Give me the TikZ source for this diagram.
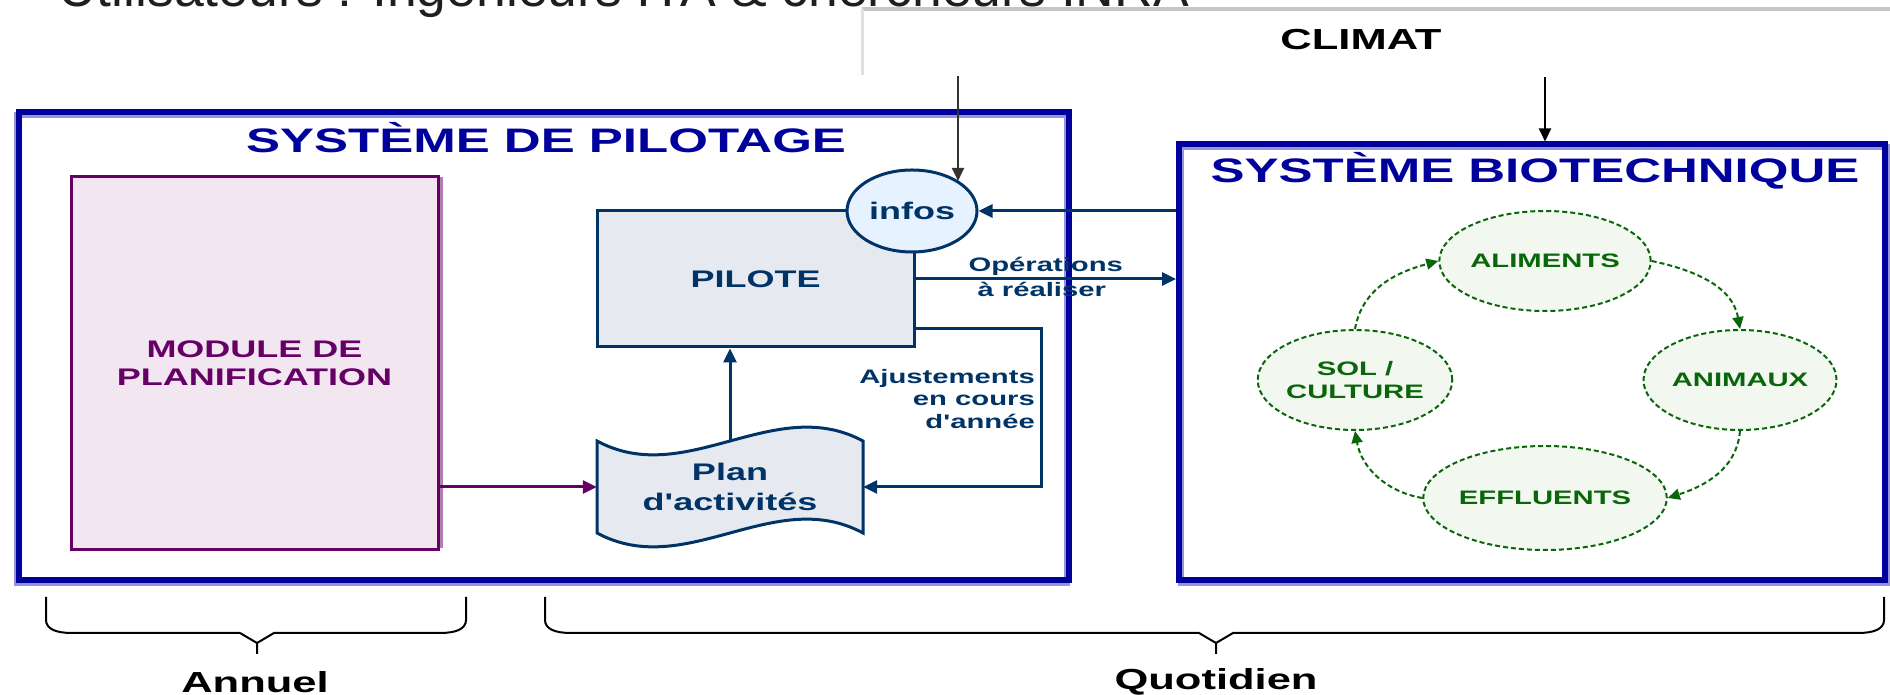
\documentclass[tikz,border=0pt]{standalone}
\usepackage{fontspec}
\setmainfont{Liberation Sans}
\newfontfamily\dfont[FakeStretch=1.5]{Liberation Sans}
\usetikzlibrary{arrows.meta,shapes.geometric}
\definecolor{dblue}{HTML}{00009C}
\definecolor{lav}{HTML}{9494DA}
\definecolor{navy}{HTML}{003366}
\definecolor{pilfill}{HTML}{E6EAF0}
\definecolor{infill}{HTML}{E6F2FF}
\definecolor{purp}{HTML}{660066}
\definecolor{purplt}{HTML}{B080B0}
\definecolor{modfill}{HTML}{F2E6F0}
\definecolor{grn}{HTML}{0A660A}
\definecolor{grnfill}{HTML}{F2F7F0}
\begin{document}
\begin{tikzpicture}[x=1pt,y=1pt,
  sysbox/.style={draw=dblue, line width=6pt, inner sep=0pt},
  shadowbox/.style={draw=lav, line width=6pt, inner sep=0pt},
  systitle/.style={text=dblue, font=\dfont\bfseries\fontsize{34}{40}\selectfont, inner sep=0pt},
  modbox/.style={draw=purp, fill=modfill, line width=3pt, text=purp, align=center,
    font=\dfont\bfseries\fontsize{24}{28}\selectfont, inner sep=0pt},
  pilbox/.style={draw=navy, fill=pilfill, line width=3pt, text=navy,
    font=\dfont\bfseries\fontsize{24}{30}\selectfont, inner sep=0pt},
  infobox/.style={ellipse, draw=navy, fill=infill, line width=3pt, text=navy,
    font=\dfont\bfseries\fontsize{24}{30}\selectfont, inner sep=0pt},
  plantext/.style={text=navy, align=center, font=\dfont\bfseries\fontsize{24}{30}\selectfont, inner sep=0pt},
  bioell/.style={ellipse, draw=grn, fill=grnfill, line width=2pt, dash pattern=on 5pt off 3pt,
    text=grn, align=center, font=\dfont\bfseries\fontsize{19.5}{23}\selectfont, inner sep=0pt},
  navyarrow/.style={draw=navy, line width=3pt, -{Triangle[length=14pt,width=13pt]}},
  purparrow/.style={draw=purp, line width=3pt, -{Triangle[length=14pt,width=13pt]}},
  blackarrow/.style={draw=black, line width=2pt, -{Triangle[length=13pt,width=12pt]}},
  grnarrow/.style={draw=grn, line width=2pt, dash pattern=on 5pt off 3pt, -{Triangle[length=12pt,width=11pt]}},
  lab/.style={text=navy, font=\dfont\bfseries\fontsize{19.5}{22.5}\selectfont, inner sep=1pt},
  bigtext/.style={text=black, font=\dfont\bfseries\fontsize{29}{34}\selectfont, inner sep=0pt},
  bracestyle/.style={draw=black, line width=2pt}
]
\useasboundingbox (0,0) rectangle (1890,695);
\clip (0,0) rectangle (1890,695);

% top text and grey lines
\node[anchor=base west, inner sep=0pt, font=\fontsize{53.5}{60}\selectfont, text=black!88] (users) at (58,688)
  {Utilisateurs : Ingénieurs ITA \& chercheurs INRA};
\coordinate (g1) at (862,686);
\coordinate (g2) at (1890,686);
\coordinate (g3) at (862,620);
\draw[gray!45, line width=4pt] (g1) -- (g2);
\draw[gray!25, line width=3pt] (g1) -- (g3);

\node[bigtext] (climat) at (1361,655) {CLIMAT};

% system boxes
\node[shadowbox, minimum width=1050pt, minimum height=468pt] (pilshadow) at (541.5,345.5) {};
\node[sysbox, minimum width=1050pt, minimum height=468pt] (pilotage) at (543.5,348.5) {};
\node[shadowbox, minimum width=706pt, minimum height=436pt] (bioshadow) at (1534,329.5) {};
\node[sysbox, minimum width=706pt, minimum height=436pt] (biotech) at (1532,332.5) {};
\node[systitle] (piltitle) at (546,557) {SYSTÈME DE PILOTAGE};
\node[systitle] (biotitle) at (1535,524) {SYSTÈME BIOTECHNIQUE};

% pilotage content
\draw[purplt, line width=3pt] (441,147) -- (441,518);
\node[modbox, minimum width=367pt, minimum height=373pt] (module) at (254.5,331.5) {MODULE DE\\PLANIFICATION};
\node[pilbox, minimum width=317pt, minimum height=136pt] (pilote) at (755.5,416) {PILOTE};
\node[infobox, minimum width=130pt, minimum height=82pt] (infos) at (912,484) {infos};
\path[draw=navy, fill=pilfill, line width=3pt]
  (597,162) -- (597,254) .. controls (686,206) and (774,302) .. (863,254)
  -- (863,162) .. controls (774,210) and (686,114) .. (597,162) -- cycle;
\node[plantext, minimum width=266pt, minimum height=92pt] (plan) at (730,208) {Plan\\d'activités};

% connectors in pilotage
\draw[navyarrow] (plan.north) -- (plan.north |- pilote.south);
\draw[purparrow] (module.east |- plan.west) -- (plan.west);
\coordinate (ajc) at (1041,366);
\draw[navyarrow] (ajc -| pilote.east) -- (ajc) |- (plan.east);
\node[lab, anchor=east, align=right] (ajlab) at (1036,296) {Ajustements\\en cours\\d'année};
\draw[navyarrow] (pilote.east) -- (pilote.east -| biotech.west)
  node[lab, midway, above, inner sep=2pt] (oplab) {Opérations}
  node[lab, midway, below, inner sep=2pt, xshift=-4pt] (realab) {à réaliser};
\draw[navyarrow] (infos.east -| biotech.west) -- (infos.east);
\coordinate (usersrc) at (958,619);
\draw[blackarrow, draw=black!80] (usersrc) -- (usersrc |- infos.north east);
\coordinate (climatsrc) at (1545,618);
\draw[blackarrow] (climatsrc) -- (climatsrc |- biotech.north);

% biotechnical cycle
\node[bioell, minimum width=178pt, minimum height=100pt] (alim) at (1545,434) {ALIMENTS};
\node[bioell, minimum width=180pt, minimum height=100pt] (anim) at (1740,315) {ANIMAUX};
\node[bioell, minimum width=174pt, minimum height=100pt] (sol) at (1355,315) {SOL /\\CULTURE};
\node[bioell, minimum width=190pt, minimum height=104pt] (effl) at (1545,197) {EFFLUENTS};
\draw[grnarrow] (sol.north) to[out=80,in=-165] (alim.west);
\draw[grnarrow] (alim.east) to[out=-12,in=100] (anim.north);
\draw[grnarrow] (anim.south) to[out=-95,in=18] (effl.east);
\draw[grnarrow] (effl.west) to[out=170,in=-80] (sol.south);

% braces
\draw[bracestyle] (46,98) -- (46,75) .. controls (46,66) and (56,62) .. (72,62) -- (240,62) -- (257,52) -- (257,41);
\draw[bracestyle] (257,52) -- (274,62) -- (440,62) .. controls (456,62) and (466,66) .. (466,75) -- (466,98);
\draw[bracestyle] (545,98) -- (545,75) .. controls (545,66) and (555,62) .. (571,62) -- (1199,62) -- (1216,52) -- (1216,41);
\draw[bracestyle] (1216,52) -- (1233,62) -- (1858,62) .. controls (1874,62) and (1884,66) .. (1884,75) -- (1884,98);
\node[bigtext] (annuel) at (255,13) {Annuel};
\node[bigtext] (quotidien) at (1216,13) {Quotidien};
\end{tikzpicture}
\end{document}
